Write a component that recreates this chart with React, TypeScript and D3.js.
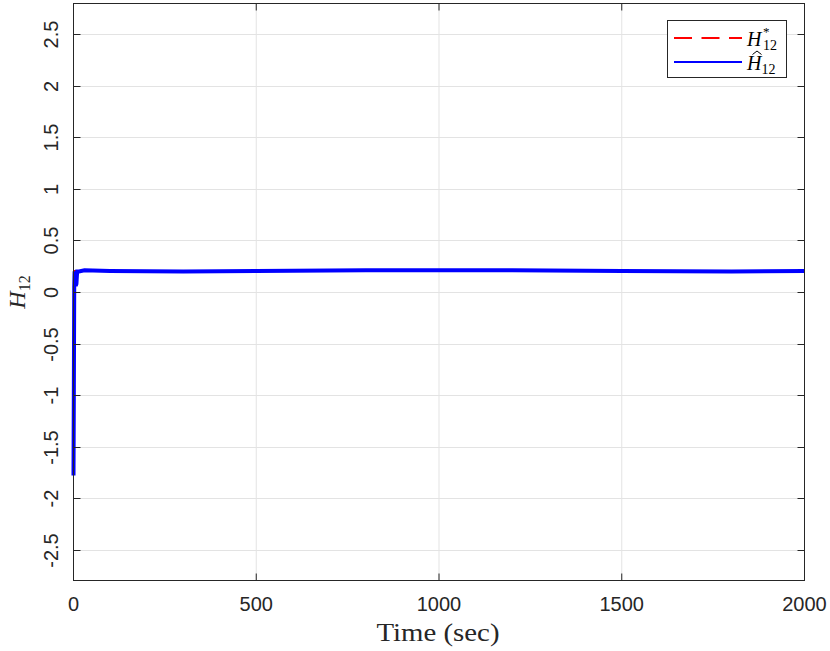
import React from "react";
import * as d3 from "d3";

const timeH = [0, 1, 2, 3, 4, 6, 8, 10, 15, 30, 100, 300, 500, 800, 1000, 1200, 1500, 1800, 2000];
const valueH = [-1.78, -0.9, 0.05, 0.2, 0.12, 0.06, 0.08, 0.2, 0.2, 0.21, 0.205, 0.2, 0.205, 0.21, 0.21, 0.21, 0.205, 0.2, 0.205];
const timeStar = [0, 2000];
const valueStar = [0.205, 0.205];
const xTicks = [0, 500, 1000, 1500, 2000];
const yTicks = [-2.5, -2, -1.5, -1, -0.5, 0, 0.5, 1, 1.5, 2, 2.5];

export default function App() {
  const W = 830, H = 651;
  const L = 73.5, R = 804.5, T = 3.5, B = 580.5;
  const x = d3.scaleLinear().domain([0, 2000]).range([L, R]);
  const y = d3.scaleLinear().domain([-2.8, 2.8]).range([B, T]);
  const line = d3.line<number>().x((_, i) => x(timeH[i])).y((d) => y(d));
  const lineStar = d3.line<number>().x((_, i) => x(timeStar[i])).y((d) => y(d));
  const axisColor = "#262626";
  const sans = "'Liberation Sans', Arial, sans-serif";
  const serif = "'Liberation Serif', 'Times New Roman', serif";
  return (
    <svg width={W} height={H} style={{ position: "absolute", left: 0, top: 0, background: "#fff" }}>
      <rect x={0} y={0} width={W} height={H} fill="#fff" />
      {/* grid */}
      {xTicks.map((t) => (
        <line key={"gx" + t} x1={x(t)} x2={x(t)} y1={T} y2={B} stroke="#e3e3e3" strokeWidth={1} />
      ))}
      {yTicks.map((t) => (
        <line key={"gy" + t} x1={L} x2={R} y1={Math.round(y(t)) + 0.5} y2={Math.round(y(t)) + 0.5} stroke="#e3e3e3" strokeWidth={1} />
      ))}
      {/* data */}
      <path d={lineStar(valueStar) || ""} fill="none" stroke="#ff0000" strokeWidth={2} strokeDasharray="17 10" />
      <path d={line(valueH) || ""} fill="none" stroke="#0000ff" strokeWidth={4} strokeLinejoin="miter" />
      {/* box */}
      <rect x={L} y={T} width={R - L} height={B - T} fill="none" stroke={axisColor} strokeWidth={1} />
      {/* ticks */}
      {xTicks.map((t) => (
        <g key={"tx" + t}>
          <line x1={x(t)} x2={x(t)} y1={B} y2={B - 7} stroke={axisColor} />
          <line x1={x(t)} x2={x(t)} y1={T} y2={T + 7} stroke={axisColor} />
          <text x={x(t)} y={611} textAnchor="middle" fontFamily={sans} fontSize={20} fill={axisColor}>
            {String(t)}
          </text>
        </g>
      ))}
      {yTicks.map((t) => {
        const yy = Math.round(y(t)) + 0.5;
        return (
          <g key={"ty" + t}>
            <line x1={L} x2={L + 7} y1={yy} y2={yy} stroke={axisColor} />
            <line x1={R} x2={R - 7} y1={yy} y2={yy} stroke={axisColor} />
            <text transform={`translate(58,${yy}) rotate(-90)`} textAnchor="middle" fontFamily={sans} fontSize={20} fill={axisColor}>
              {String(t)}
            </text>
          </g>
        );
      })}
      {/* axis labels */}
      <text x={(L + R) / 2 - 1} y={641} textAnchor="middle" fontFamily={serif} fontSize={25} fill={axisColor} textLength={123} lengthAdjust="spacingAndGlyphs">
        Time (sec)
      </text>
      <text transform={`translate(25,${y(0)}) rotate(-90)`} textAnchor="middle" fontFamily={serif} fontSize={24} fill={axisColor}>
        <tspan fontStyle="italic">H</tspan>
        <tspan fontSize={16} dy={5}>12</tspan>
      </text>
      {/* legend */}
      <rect x={667.5} y={20.5} width={119} height={57} fill="#fff" stroke={axisColor} strokeWidth={1} />
      <line x1={674} x2={742} y1={38} y2={38} stroke="#ff0000" strokeWidth={2} strokeDasharray="18 9.5" />
      <line x1={674} x2={742} y1={62} y2={62} stroke="#0000ff" strokeWidth={2} />
      <text x={747} y={46} fontFamily={serif} fontSize={20} fill="#000">
        <tspan fontStyle="italic">H</tspan>
      </text>
      <text x={763} y={36} fontFamily={serif} fontSize={13} fill="#000">*</text>
      <text x={763} y={50} fontFamily={serif} fontSize={14} fill="#000">12</text>
      <text x={747} y={70} fontFamily={serif} fontSize={20} fill="#000">
        <tspan fontStyle="italic">H</tspan>
        <tspan fontSize={14} dy={4}>12</tspan>
      </text>
      <path d="M752.5,54.5 L757,51 L761.5,54.5" fill="none" stroke="#000" strokeWidth={1} />
    </svg>
  );
}
